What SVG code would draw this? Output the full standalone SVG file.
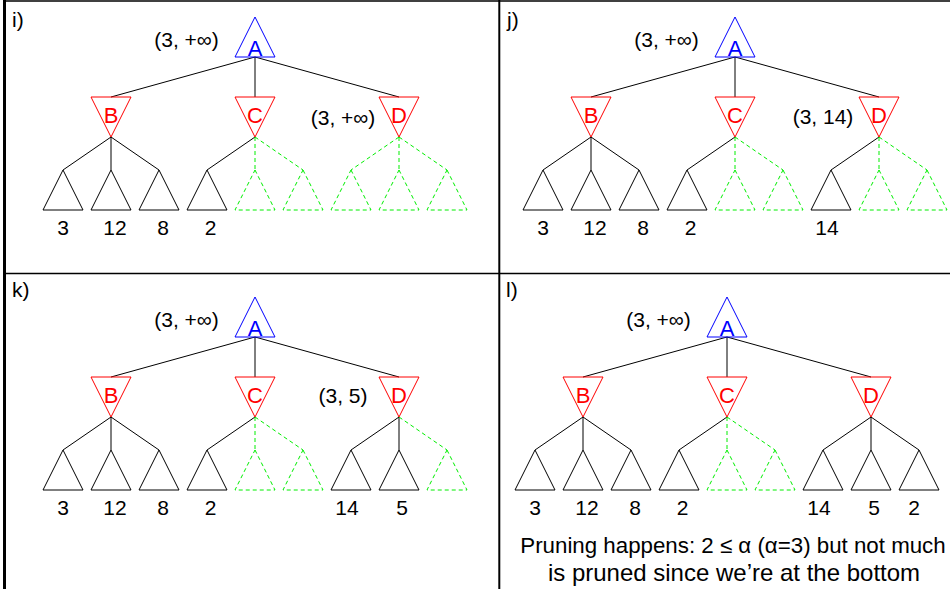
<svg xmlns="http://www.w3.org/2000/svg" width="950" height="589" viewBox="0 0 950 589">
<style>
.bg{fill:#fff}
.frame{stroke:#000;fill:none}
.max{fill:none;stroke:#0000ff;stroke-width:1}
.min{fill:none;stroke:#ff0000;stroke-width:1}
.e{stroke:#000;fill:none;stroke-width:1}
.p{stroke:#00ee00;fill:none;stroke-width:1;stroke-dasharray:4 3}
text{font-family:"Liberation Sans",Arial,sans-serif;font-size:21px;fill:#000}
.c{text-anchor:middle}
.tb{fill:#0000ff;font-size:22px}
.tr{fill:#ff0000;font-size:22px}
.note{font-size:24px}
.note1{font-size:22.3px}
</style>
<rect class="bg" x="0" y="0" width="950" height="589"/>
<g id="frame">
<line class="frame" x1="4.5" y1="0" x2="4.5" y2="589" stroke-width="3"/>
<line class="frame" x1="4" y1="1" x2="950" y2="1" stroke-width="1.5"/>
<line class="frame" x1="499.3" y1="0" x2="499.3" y2="589" stroke-width="2"/>
<line class="frame" x1="4" y1="273.5" x2="950" y2="273.5" stroke-width="1.5"/>
</g>

<!-- Panel i -->
<g id="panel-i">
<text x="12" y="27">i)</text>
<g id="i-connectors">
<path class="e" d="M255,57L111,97M255,57L255,97M255,57L399,97M111,137L63,170M111,137L111,170M111,137L159,170M255,137L207,170"/>
<path class="p" d="M255,137L255,170M255,137L303,170M399,137L351,170M399,137L399,170M399,137L447,170"/>
</g>
<g id="i-A"><polygon class="max" points="255,17 275,57 235,57"/><text class="c tb" x="255" y="56">A</text></g>
<g id="i-B"><polygon class="min" points="91,97 131,97 111,137"/><text class="c tr" x="111" y="123">B</text></g>
<g id="i-C"><polygon class="min" points="235,97 275,97 255,137"/><text class="c tr" x="255" y="123">C</text></g>
<g id="i-D"><polygon class="min" points="379,97 419,97 399,137"/><text class="c tr" x="399" y="123">D</text></g>
<g id="i-L1"><polygon class="e" points="63,170 83,210 43,210"/><text class="c" x="63" y="235">3</text></g>
<g id="i-L2"><polygon class="e" points="111,170 131,210 91,210"/><text class="c" x="115" y="235">12</text></g>
<g id="i-L3"><polygon class="e" points="159,170 179,210 139,210"/><text class="c" x="163" y="235">8</text></g>
<g id="i-L4"><polygon class="e" points="207,170 227,210 187,210"/><text class="c" x="210.5" y="235">2</text></g>
<g id="i-L5"><polygon class="p" points="255,170 275,210 235,210"/></g>
<g id="i-L6"><polygon class="p" points="303,170 323,210 283,210"/></g>
<g id="i-L7"><polygon class="p" points="351,170 371,210 331,210"/></g>
<g id="i-L8"><polygon class="p" points="399,170 419,210 379,210"/></g>
<g id="i-L9"><polygon class="p" points="447,170 467,210 427,210"/></g>
<text class="c" x="186.5" y="47">(3, +∞)</text>
<text class="c" x="343" y="125">(3, +∞)</text>
</g>

<!-- Panel j -->
<g id="panel-j" transform="translate(480,0)">
<text x="27" y="27">j)</text>
<g id="j-connectors">
<path class="e" d="M255,57L111,97M255,57L255,97M255,57L399,97M111,137L63,170M111,137L111,170M111,137L159,170M255,137L207,170M399,137L351,170"/>
<path class="p" d="M255,137L255,170M255,137L303,170M399,137L399,170M399,137L447,170"/>
</g>
<g id="j-A"><polygon class="max" points="255,17 275,57 235,57"/><text class="c tb" x="255" y="56">A</text></g>
<g id="j-B"><polygon class="min" points="91,97 131,97 111,137"/><text class="c tr" x="111" y="123">B</text></g>
<g id="j-C"><polygon class="min" points="235,97 275,97 255,137"/><text class="c tr" x="255" y="123">C</text></g>
<g id="j-D"><polygon class="min" points="379,97 419,97 399,137"/><text class="c tr" x="399" y="123">D</text></g>
<g id="j-L1"><polygon class="e" points="63,170 83,210 43,210"/><text class="c" x="63" y="235">3</text></g>
<g id="j-L2"><polygon class="e" points="111,170 131,210 91,210"/><text class="c" x="115" y="235">12</text></g>
<g id="j-L3"><polygon class="e" points="159,170 179,210 139,210"/><text class="c" x="163" y="235">8</text></g>
<g id="j-L4"><polygon class="e" points="207,170 227,210 187,210"/><text class="c" x="210.5" y="235">2</text></g>
<g id="j-L5"><polygon class="p" points="255,170 275,210 235,210"/></g>
<g id="j-L6"><polygon class="p" points="303,170 323,210 283,210"/></g>
<g id="j-L7"><polygon class="e" points="351,170 371,210 331,210"/><text class="c" x="347" y="235">14</text></g>
<g id="j-L8"><polygon class="p" points="399,170 419,210 379,210"/></g>
<g id="j-L9"><polygon class="p" points="447,170 467,210 427,210"/></g>
<text class="c" x="186.5" y="47">(3, +∞)</text>
<text class="c" x="343" y="124">(3, 14)</text>
</g>

<!-- Panel k -->
<g id="panel-k" transform="translate(0,280)">
<text x="12" y="16.5">k)</text>
<g id="k-connectors">
<path class="e" d="M255,57L111,97M255,57L255,97M255,57L399,97M111,137L63,170M111,137L111,170M111,137L159,170M255,137L207,170M399,137L351,170M399,137L399,170"/>
<path class="p" d="M255,137L255,170M255,137L303,170M399,137L447,170"/>
</g>
<g id="k-A"><polygon class="max" points="255,17 275,57 235,57"/><text class="c tb" x="255" y="56">A</text></g>
<g id="k-B"><polygon class="min" points="91,97 131,97 111,137"/><text class="c tr" x="111" y="123">B</text></g>
<g id="k-C"><polygon class="min" points="235,97 275,97 255,137"/><text class="c tr" x="255" y="123">C</text></g>
<g id="k-D"><polygon class="min" points="379,97 419,97 399,137"/><text class="c tr" x="399" y="123">D</text></g>
<g id="k-L1"><polygon class="e" points="63,170 83,210 43,210"/><text class="c" x="63" y="235">3</text></g>
<g id="k-L2"><polygon class="e" points="111,170 131,210 91,210"/><text class="c" x="115" y="235">12</text></g>
<g id="k-L3"><polygon class="e" points="159,170 179,210 139,210"/><text class="c" x="163" y="235">8</text></g>
<g id="k-L4"><polygon class="e" points="207,170 227,210 187,210"/><text class="c" x="210.5" y="235">2</text></g>
<g id="k-L5"><polygon class="p" points="255,170 275,210 235,210"/></g>
<g id="k-L6"><polygon class="p" points="303,170 323,210 283,210"/></g>
<g id="k-L7"><polygon class="e" points="351,170 371,210 331,210"/><text class="c" x="347" y="235">14</text></g>
<g id="k-L8"><polygon class="e" points="399,170 419,210 379,210"/><text class="c" x="402" y="235">5</text></g>
<g id="k-L9"><polygon class="p" points="447,170 467,210 427,210"/></g>
<text class="c" x="186.5" y="47">(3, +∞)</text>
<text class="c" x="343" y="123">(3, 5)</text>
</g>

<!-- Panel l -->
<g id="panel-l" transform="translate(472,280)">
<text x="34" y="16.5">l)</text>
<g id="l-connectors">
<path class="e" d="M255,57L111,97M255,57L255,97M255,57L399,97M111,137L63,170M111,137L111,170M111,137L159,170M255,137L207,170M399,137L351,170M399,137L399,170M399,137L447,170"/>
<path class="p" d="M255,137L255,170M255,137L303,170"/>
</g>
<g id="l-A"><polygon class="max" points="255,17 275,57 235,57"/><text class="c tb" x="255" y="56">A</text></g>
<g id="l-B"><polygon class="min" points="91,97 131,97 111,137"/><text class="c tr" x="111" y="123">B</text></g>
<g id="l-C"><polygon class="min" points="235,97 275,97 255,137"/><text class="c tr" x="255" y="123">C</text></g>
<g id="l-D"><polygon class="min" points="379,97 419,97 399,137"/><text class="c tr" x="399" y="123">D</text></g>
<g id="l-L1"><polygon class="e" points="63,170 83,210 43,210"/><text class="c" x="63" y="235">3</text></g>
<g id="l-L2"><polygon class="e" points="111,170 131,210 91,210"/><text class="c" x="115" y="235">12</text></g>
<g id="l-L3"><polygon class="e" points="159,170 179,210 139,210"/><text class="c" x="163" y="235">8</text></g>
<g id="l-L4"><polygon class="e" points="207,170 227,210 187,210"/><text class="c" x="210.5" y="235">2</text></g>
<g id="l-L5"><polygon class="p" points="255,170 275,210 235,210"/></g>
<g id="l-L6"><polygon class="p" points="303,170 323,210 283,210"/></g>
<g id="l-L7"><polygon class="e" points="351,170 371,210 331,210"/><text class="c" x="347" y="235">14</text></g>
<g id="l-L8"><polygon class="e" points="399,170 419,210 379,210"/><text class="c" x="402" y="235">5</text></g>
<g id="l-L9"><polygon class="e" points="447,170 467,210 427,210"/><text class="c" x="442" y="235">2</text></g>
<text class="c" x="186.5" y="47">(3, +∞)</text>
</g>
<text class="note1 c" x="733" y="553">Pruning happens: 2 ≤ α (α=3) but not much</text>
<text class="note c" x="734" y="581">is pruned since we’re at the bottom</text>
</svg>
